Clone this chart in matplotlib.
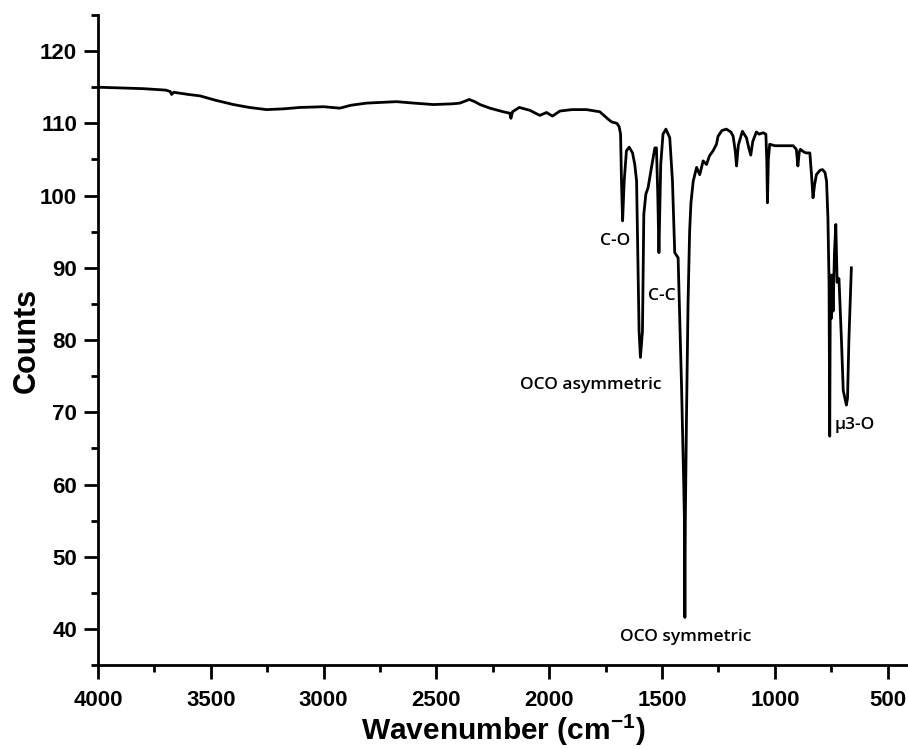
import matplotlib.pyplot as plt
from matplotlib.ticker import MultipleLocator

# FTIR spectrum
wavenumber = [
    4000, 3900, 3800, 3700, 3680, 3674, 3665, 3600, 3548, 3480, 3400, 3330,
    3253, 3180, 3105, 3000, 2928, 2880, 2810, 2677, 2600, 2514, 2430, 2396,
    2355, 2330, 2307, 2263, 2204, 2175, 2170, 2163, 2133, 2086, 2042, 2012,
    1986, 1953, 1900, 1835, 1776, 1740, 1724, 1700, 1690, 1684, 1680, 1675,
    1668, 1658, 1646, 1631, 1621, 1613, 1602, 1596, 1587, 1581, 1572, 1562,
    1547, 1532, 1525, 1519, 1514, 1509, 1506, 1496, 1483, 1466, 1454, 1444,
    1429, 1414, 1404, 1401, 1399, 1397, 1392, 1385, 1378, 1372, 1362, 1347,
    1333, 1318, 1303, 1290, 1274, 1259, 1252, 1235, 1215, 1195, 1185, 1175,
    1170, 1162, 1144, 1126, 1115, 1107, 1098, 1082, 1070, 1052, 1040, 1036,
    1033, 1029, 1023, 1000, 960, 919, 905, 898, 892, 887, 870, 860,
    845, 838, 831, 824, 816, 800, 789, 778, 771, 765, 760, 757,
    754, 750, 746, 742, 736, 730, 724, 716, 705, 697, 690, 683,
    678, 672, 661,
]
counts = [
    115.0, 114.9, 114.8, 114.6, 114.4, 114.0, 114.3, 114.0, 113.8, 113.2, 112.6, 112.2,
    111.9, 112.0, 112.2, 112.3, 112.1, 112.5, 112.8, 113.0, 112.8, 112.6, 112.7, 112.8,
    113.3, 113.0, 112.6, 112.1, 111.6, 111.4, 110.7, 111.6, 112.2, 111.8, 111.1, 111.5,
    111.0, 111.7, 111.9, 111.9, 111.6, 110.6, 110.2, 110.0, 109.5, 108.5, 102.0, 96.5,
    102.0, 106.2, 106.7, 105.9, 104.3, 102.0, 81.2, 77.6, 81.2, 97.4, 100.2, 101.1,
    103.9, 106.6, 106.6, 100.0, 92.1, 100.0, 104.3, 108.5, 109.2, 108.0, 102.0, 92.1,
    91.4, 73.9, 60.0, 55.0, 41.6, 55.0, 69.0, 85.0, 95.0, 99.0, 102.0, 103.9,
    102.9, 104.8, 104.3, 105.5, 106.2, 107.1, 108.2, 109.0, 109.2, 108.8, 108.2, 106.0,
    104.1, 107.0, 108.9, 108.0, 106.5, 105.6, 107.5, 108.8, 108.5, 108.7, 108.5, 105.0,
    99.0, 105.0, 107.1, 106.9, 106.9, 106.9, 106.4, 104.1, 106.0, 106.4, 106.0, 105.9,
    105.9, 103.0, 99.7, 101.5, 102.9, 103.5, 103.6, 103.2, 102.0, 97.0, 88.0, 66.7,
    89.0, 83.0, 89.0, 84.0, 92.0, 96.0, 88.0, 88.5, 80.0, 73.0, 72.0, 71.0,
    72.0, 80.0, 90.0,
]

# peak assignments: text, x, y, alignment
peak_labels = ["C-O", "C-C", "OCO asymmetric", "OCO symmetric", "\u03bc3-O"]
label_x = [1709, 1503, 1816, 1395, 735]
label_y = [93.7, 86.1, 73.8, 38.9, 68.2]
label_ha = ["center", "center", "center", "center", "left"]

fig = plt.figure(figsize=(9.08, 7.49), dpi=100)
ax = fig.add_axes([0.108, 0.112, 0.892, 0.868])

ax.plot(wavenumber, counts, color="black", lw=2.0)

for txt, x, y, ha in zip(peak_labels, label_x, label_y, label_ha):
    ax.text(x, y, txt, ha=ha, va="center", fontsize=12.5,
            family=["Open Sans", "DejaVu Sans"], fontweight="semibold")

ax.set_xlim(4000, 410)
ax.set_ylim(35, 125)

ax.xaxis.set_major_locator(MultipleLocator(500))
ax.xaxis.set_minor_locator(MultipleLocator(250))
ax.yaxis.set_major_locator(MultipleLocator(10))
ax.yaxis.set_minor_locator(MultipleLocator(5))

ax.spines["top"].set_visible(False)
ax.spines["right"].set_visible(False)
for s in ["left", "bottom"]:
    ax.spines[s].set_linewidth(2.0)

ax.tick_params(which="major", direction="out", length=10, width=2.0)
ax.tick_params(which="minor", direction="out", length=5, width=2.0)
ax.tick_params(axis="x", which="major", pad=8)
ax.tick_params(axis="y", which="major", pad=5)

for lab in ax.get_xticklabels() + ax.get_yticklabels():
    lab.set_fontfamily("Liberation Sans")
    lab.set_fontweight("bold")
    lab.set_fontsize(16)

ax.set_xlabel("Wavenumber (cm$^{\\mathregular{-1}}$)", fontsize=21.5,
              fontweight="bold", family="Liberation Sans", labelpad=1)
ax.set_ylabel("Counts", fontsize=22, fontweight="bold",
              family="Liberation Sans", labelpad=-1)

fig.savefig("out.png", dpi=100)
